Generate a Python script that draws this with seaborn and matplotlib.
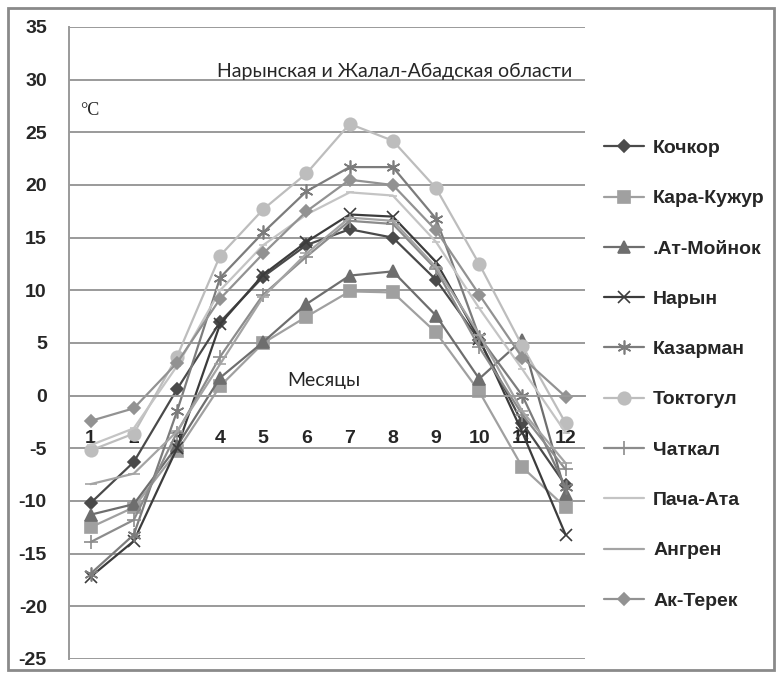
import pandas as pd
import matplotlib
matplotlib.use('Agg')
import matplotlib.pyplot as plt
import seaborn as sns
from matplotlib.patches import Rectangle
from matplotlib.ticker import MultipleLocator

# данные (среднемесячная температура, °C)
months = list(range(1, 13))
kochkor = [-10.2, -6.3, 0.6, 7.0, 11.3, 14.3, 15.8, 15.0, 11.0, 5.3, -2.6, -8.5]
kara_kuzhur = [-12.5, -10.6, -5.3, 0.9, 5.0, 7.5, 9.9, 9.8, 6.0, 0.4, -6.8, -10.6]
at_moinok = [-11.3, -10.3, -4.8, 1.7, 5.1, 8.7, 11.4, 11.8, 7.6, 1.6, 5.3, -9.3]
naryn = [-17.2, -13.8, -5.0, 6.8, 11.5, 14.6, 17.2, 17.0, 12.7, 5.4, -3.5, -13.2]
kazarman = [-16.9, -13.2, -1.5, 11.2, 15.5, 19.4, 21.7, 21.7, 16.8, 5.6, 0.0, -8.7]
toktogul = [-5.2, -3.6, 3.7, 13.3, 17.7, 21.1, 25.8, 24.2, 19.7, 12.5, 4.7, -2.6]
chatkal = [-13.9, -11.8, -3.5, 3.7, 9.6, 13.2, 16.6, 16.3, 12.0, 4.6, -1.8, -7.0]
pacha_ata = [-4.7, -3.1, 2.8, 10.0, 14.3, 17.2, 19.3, 19.0, 14.6, 8.3, 2.5, -3.5]
angren = [-8.4, -7.4, -3.4, 3.0, 9.4, 13.5, 16.9, 16.6, 12.2, 5.8, -1.5, -6.4]
ak_terek = [-2.4, -1.2, 3.1, 9.2, 13.5, 17.5, 20.5, 20.0, 15.7, 9.6, 3.6, -0.1]

stations = ['Кочкор', 'Кара-Кужур', '.Ат-Мойнок', 'Нарын', 'Казарман',
            'Токтогул', 'Чаткал', 'Пача-Ата', 'Ангрен', 'Ак-Терек']
series = [kochkor, kara_kuzhur, at_moinok, naryn, kazarman,
          toktogul, chatkal, pacha_ata, angren, ak_terek]

colors = ['#4a4a4a', '#a0a0a0', '#6e6e6e', '#3c3c3c', '#7c7c7c',
          '#bdbdbd', '#8c8c8c', '#c4c4c4', '#a4a4a4', '#929292']
markers = ['D', 's', '^', 'x', (6, 2, 0), 'o', '+', '_', '_', 'D']
msizes = [6, 8, 8, 9, 10, 9, 10, 6, 8, 6]

sns.set_style('white')
plt.rcParams['font.family'] = ['Lato', 'DejaVu Sans']
plt.rcParams['axes.unicode_minus'] = False
bold_font = ['Liberation Sans', 'DejaVu Sans']

fig = plt.figure(figsize=(7.79, 6.74), dpi=100)
ax = fig.add_axes([69 / 779, 1 - 659 / 674, 516 / 779, 632 / 674])

for name, vals, c, m, ms in zip(stations, series, colors, markers, msizes):
    df = pd.DataFrame({'month': months, 'temp': vals})
    sns.lineplot(data=df, x='month', y='temp', ax=ax, color=c, marker=m,
                 markersize=ms, markeredgecolor=c, markerfacecolor=c,
                 markeredgewidth=1.2, linewidth=1.6, label=name)

ax.set_xlim(0.55, 12.45)
ax.set_ylim(-25, 35)
ax.yaxis.set_major_locator(MultipleLocator(5))
ax.grid(axis='y', color='#9a9a9a', linewidth=1.4)
ax.grid(axis='x', visible=False)

for s in ['top', 'right']:
    ax.spines[s].set_visible(False)
ax.spines['left'].set_color('#9a9a9a')
ax.spines['left'].set_linewidth(1.4)
ax.spines['bottom'].set_position(('data', 0))
ax.spines['bottom'].set_color('#9a9a9a')
ax.spines['bottom'].set_linewidth(1.4)

ax.set_xticks(months)
ax.set_xticklabels([str(m) for m in months], fontsize=14, fontweight='bold', family=bold_font)
ax.set_xticks([m + 0.5 for m in range(0, 12)], minor=True)
ax.tick_params(axis='x', which='major', length=0, pad=25)
ax.tick_params(axis='x', which='minor', length=6, color='#9a9a9a', width=1.4, direction='out')
ax.tick_params(axis='y', length=7, color='#9a9a9a', width=1.4, direction='out', pad=9)
for t in ax.get_yticklabels():
    t.set_fontsize(14)
    t.set_fontweight('bold')
    t.set_family(bold_font)
ax.set_xlabel('')
ax.set_ylabel('')

ax.text(0.632, 0.93, 'Нарынская и Жалал-Абадская области', transform=ax.transAxes,
        ha='center', va='center', fontsize=14)
ax.text(0.022, 0.868, '°C', transform=ax.transAxes, ha='left', va='center',
        fontsize=13, family=['Liberation Serif', 'DejaVu Serif'])
ax.text(6.4, 1.4, 'Месяцы', ha='center', va='center', fontsize=14)

ax.get_legend().remove()
handles, labels = ax.get_legend_handles_labels()
fig.legend(handles, labels, loc='upper left', bbox_to_anchor=(586 / 779, 1 - 122 / 674),
           frameon=False, prop={'size': 14, 'weight': 'bold', 'family': bold_font},
           labelspacing=1.68, handlelength=2.1, handletextpad=0.45)

fig.patches.append(Rectangle((8 / 779, 4 / 674), 766 / 779, 662 / 674, transform=fig.transFigure,
                             fill=False, edgecolor='#8a8a8a', linewidth=2))

fig.savefig('out.png', dpi=100, facecolor='white')
